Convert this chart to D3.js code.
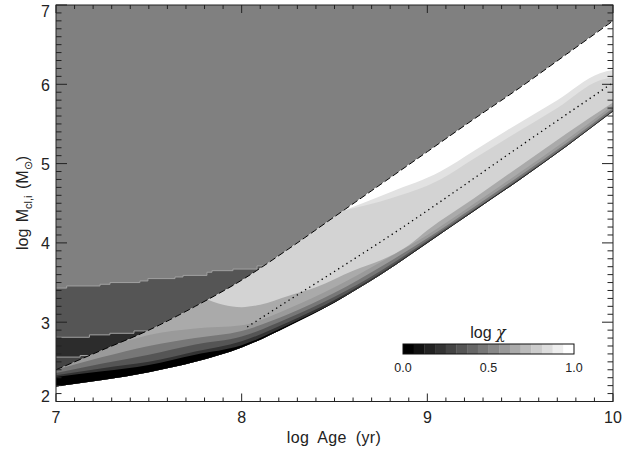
<!DOCTYPE html>
<html><head><meta charset="utf-8">
<script src="https://cdn.jsdelivr.net/npm/d3@7"></script>
<style>
body{margin:0;background:#fff}
svg{display:block}
text{font-family:"Liberation Sans",Arial,Helvetica,sans-serif;fill:#222}
</style>
</head><body>
<svg id="c" width="644" height="451"></svg>
<script>
// ---- data ----
const xSamples = [7.0, 7.25, 7.5, 7.75, 8.0, 8.25, 8.5, 8.75, 9.0, 9.25, 9.5, 9.75, 10.0];
const dashedY  = [2.40, 2.65, 2.90, 3.20, 3.53, 3.92, 4.33, 4.74, 5.15, 5.56, 5.96, 6.38, 6.80];
const lowerY   = [2.19, 2.27, 2.37, 2.50, 2.68, 2.95, 3.25, 3.60, 4.00, 4.40, 4.80, 5.22, 5.66];
const band1Y   = [2.31, 2.38, 2.46, 2.59, 2.71, 2.965, 3.255, 3.603, 4.002, 4.402, 4.802, 5.222, 5.662];
const band2Y   = [2.33, 2.42, 2.50, 2.63, 2.76, 3.00, 3.28, 3.62, 4.01, 4.41, 4.81, 5.225, 5.665];
const band3Y   = [2.36, 2.48, 2.59, 2.72, 2.82, 3.05, 3.32, 3.65, 4.03, 4.42, 4.82, 5.235, 5.675];
const band4Y   = [2.40, 2.56, 2.70, 2.80, 2.89, 3.10, 3.37, 3.70, 4.06, 4.45, 4.85, 5.26, 5.70];
const band5Y   = [2.42, 2.66, 2.84, 2.92, 2.96, 3.17, 3.44, 3.76, 4.10, 4.49, 4.89, 5.30, 5.74];
const bandColors = ["#9a9a9a", "#777777", "#555555", "#333333", "#000000"];

const lgX       = [7.80, 7.9, 8.0, 8.1, 8.25, 8.4, 8.6, 8.75, 8.9, 9.0, 9.25, 9.5, 9.75, 10.0];
const lgBottomY = [3.30, 3.22, 3.19, 3.22, 3.33, 3.44, 3.65, 3.78, 3.97, 4.16, 4.56, 4.97, 5.38, 5.77];

const gapX          = [8.55, 8.8, 9.07, 9.25, 9.43, 9.7, 9.93, 10.0];
const gapBottomY    = [4.41, 4.64, 4.90, 5.16, 5.42, 5.80, 6.14, 6.18];
const fringeBottomY = [4.41, 4.56, 4.80, 5.06, 5.32, 5.70, 6.05, 6.09];

const dotX = [8.03, 8.25, 8.5, 8.85, 9.07, 9.5, 10.0];
const dotY = [2.94, 3.27, 3.64, 4.17, 4.52, 5.22, 6.02];

const stair1X = [7.0, 7.0575, 7.237, 7.291, 7.452, 7.495, 7.641, 7.684, 7.813, 7.840, 7.953, 8.083, 8.20];
const stair1Y = [3.43, 3.457, 3.478, 3.50, 3.52, 3.55, 3.57, 3.59, 3.63, 3.65, 3.67, 3.71, 3.71];
const stair2X = [7.0, 7.18, 7.29, 7.42, 7.6];
const stair2Y = [2.81, 2.84, 2.86, 2.89, 2.89];
const stair3X = [7.0, 7.13, 7.3];
const stair3Y = [2.56, 2.58, 2.58];

const xTicks = [7, 8, 9, 10];
const yTicks = [2, 3, 4, 5, 6, 7];
const cbTicks = [0.0, 0.5, 1.0];
const cbTickLabels = ["0.0", "0.5", "1.0"];
const cbSteps = 16;

// ---- scales ----
const L = 56, R = 613, T = 5, B = 401.5;
const x = d3.scaleLinear().domain([7, 10]).range([L, R]);
const y = d3.scaleLinear().domain([2, 7]).range([B, T]);
const svg = d3.select("#c");
const defs = svg.append("defs");
const pts = (xs, ys) => xs.map((v, i) => ({x: v, y: ys[i]}));
const curve = d3.curveMonotoneX;

defs.append("clipPath").attr("id", "plot").append("rect")
  .attr("x", L).attr("y", T).attr("width", R - L).attr("height", B - T);
const upperArea = d3.area().x(d => x(d.x)).y0(d => y(d.y)).y1(y(7)).curve(curve);
defs.append("clipPath").attr("id", "upper").append("path").attr("d", upperArea(pts(xSamples, dashedY)));
const valleyPts = xSamples.map((v, i) => ({x: v, lo: lowerY[i], hi: dashedY[i]}));
const valleyArea = d3.area().x(d => x(d.x)).y0(d => y(d.lo)).y1(d => y(d.hi)).curve(curve);
defs.append("clipPath").attr("id", "valley").append("path").attr("d", valleyArea(valleyPts));

const gp = svg.append("g").attr("clip-path", "url(#plot)");

// upper region
const gu = gp.append("g").attr("clip-path", "url(#upper)");
gu.append("rect").attr("x", L).attr("y", T).attr("width", R - L).attr("height", B - T).attr("fill", "#808080");
const stepArea = d3.area().x(d => x(d.x)).y0(y(2)).y1(d => y(d.y)).curve(d3.curveStepAfter);
const stepLine = d3.line().x(d => x(d.x)).y(d => y(d.y)).curve(d3.curveStepAfter);
[[stair1X, stair1Y, "#555555"], [stair2X, stair2Y, "#2c2c2c"], [stair3X, stair3Y, "#444444"]].forEach(([xs, ys, c]) => {
  gu.append("path").attr("d", stepArea(pts(xs, ys))).attr("fill", c);
  gu.append("path").attr("d", stepLine(pts(xs, ys))).attr("fill", "none").attr("stroke", "#a0a0a0").attr("stroke-width", 1);
});

// valley region
const gv = gp.append("g").attr("clip-path", "url(#valley)");
gv.append("rect").attr("x", L).attr("y", T).attr("width", R - L).attr("height", B - T).attr("fill", "#aaaaaa");
const topArea = d3.area().x(d => x(d.x)).y0(d => y(d.y)).y1(y(7)).curve(curve);
gv.append("path").attr("d", topArea(pts(lgX, lgBottomY))).attr("fill", "#d3d3d3");
gv.append("path").attr("d", topArea(pts(gapX, fringeBottomY))).attr("fill", "#e2e2e2");
gv.append("path").attr("d", topArea(pts(gapX, gapBottomY))).attr("fill", "#ffffff");
const botArea = d3.area().x(d => x(d.x)).y0(y(2)).y1(d => y(d.y)).curve(curve);
[band5Y, band4Y, band3Y, band2Y, band1Y].forEach((ys, i) => {
  gv.append("path").attr("d", botArea(pts(xSamples, ys))).attr("fill", bandColors[i]);
});

// lines
const line = d3.line().x(d => x(d.x)).y(d => y(d.y)).curve(curve);
gp.append("path").attr("d", line(pts(xSamples, dashedY))).attr("fill", "none")
  .attr("stroke", "#000").attr("stroke-width", 1).attr("stroke-dasharray", "7,3");
gp.append("path").attr("d", line(pts(dotX, dotY))).attr("fill", "none")
  .attr("stroke", "#000").attr("stroke-width", 1.3).attr("stroke-dasharray", "1.3,3.6");

// frame and ticks
const ax = svg.append("g").attr("stroke", "#222").attr("stroke-width", 1).attr("fill", "none");
ax.append("rect").attr("x", L).attr("y", T).attr("width", R - L).attr("height", B - T);
d3.range(70, 101).map(d => d / 10).forEach(v => {
  const len = xTicks.includes(v) ? 8 : 4;
  const px = x(v);
  ax.append("line").attr("x1", px).attr("x2", px).attr("y1", B).attr("y2", B - len);
  ax.append("line").attr("x1", px).attr("x2", px).attr("y1", T).attr("y2", T + len);
});
d3.range(20, 71).map(d => d / 10).forEach(v => {
  const len = yTicks.includes(v) ? 11 : 5.5;
  const py = y(v);
  ax.append("line").attr("x1", L).attr("x2", L + len).attr("y1", py).attr("y2", py);
  ax.append("line").attr("x1", R).attr("x2", R - len).attr("y1", py).attr("y2", py);
});

// tick labels
xTicks.forEach(v => {
  svg.append("text").attr("x", x(v)).attr("y", 423).attr("text-anchor", "middle")
    .attr("font-size", 16).text(v);
});
yTicks.forEach(v => {
  const by = Math.max(16.5, Math.min(402, y(v) + 6.5));
  svg.append("text").attr("x", 50).attr("y", by).attr("text-anchor", "end")
    .attr("font-size", 16).text(v);
});

// axis titles
svg.append("text").attr("x", 334).attr("y", 443).attr("text-anchor", "middle")
  .attr("font-size", 16).attr("word-spacing", 4).attr("letter-spacing", 0.4).text("log Age (yr)");
const yl = svg.append("text").attr("transform", "translate(28,203) rotate(-90)")
  .attr("text-anchor", "middle").attr("font-size", 16).attr("word-spacing", 2);
yl.append("tspan").text("log M");
yl.append("tspan").attr("font-size", 11).attr("dy", 4).text("cl,i");
yl.append("tspan").attr("dy", -4).text(" (M");
yl.append("tspan").attr("font-size", 11).attr("dy", 4).text("\u2299");
yl.append("tspan").attr("dy", -4).text(")");

// colour bar
const cbx = d3.scaleLinear().domain([0, 1]).range([403, 574]);
const cbBand = d3.scaleBand().domain(d3.range(cbSteps)).range([403, 574]);
const gray = d3.scaleLinear().domain([0, cbSteps - 1]).range(["#000000", "#ffffff"]);
d3.range(cbSteps).forEach(i => {
  svg.append("rect").attr("x", cbBand(i)).attr("y", 344).attr("width", cbBand.bandwidth() + 0.3)
    .attr("height", 10).attr("fill", gray(i));
});
svg.append("rect").attr("x", 403).attr("y", 344).attr("width", 171).attr("height", 10)
  .attr("fill", "none").attr("stroke", "#111").attr("stroke-width", 1);
cbTicks.forEach((v, i) => {
  svg.append("text").attr("x", cbx(v)).attr("y", 372).attr("text-anchor", "middle")
    .attr("font-size", 12.5).text(cbTickLabels[i]);
});
const cbt = svg.append("text").attr("x", 488).attr("y", 338).attr("text-anchor", "middle").attr("font-size", 16);
cbt.append("tspan").text("log ");
cbt.append("tspan").attr("font-style", "italic").attr("font-family", "DejaVu Serif").text("\u03c7");
</script>
</body></html>
